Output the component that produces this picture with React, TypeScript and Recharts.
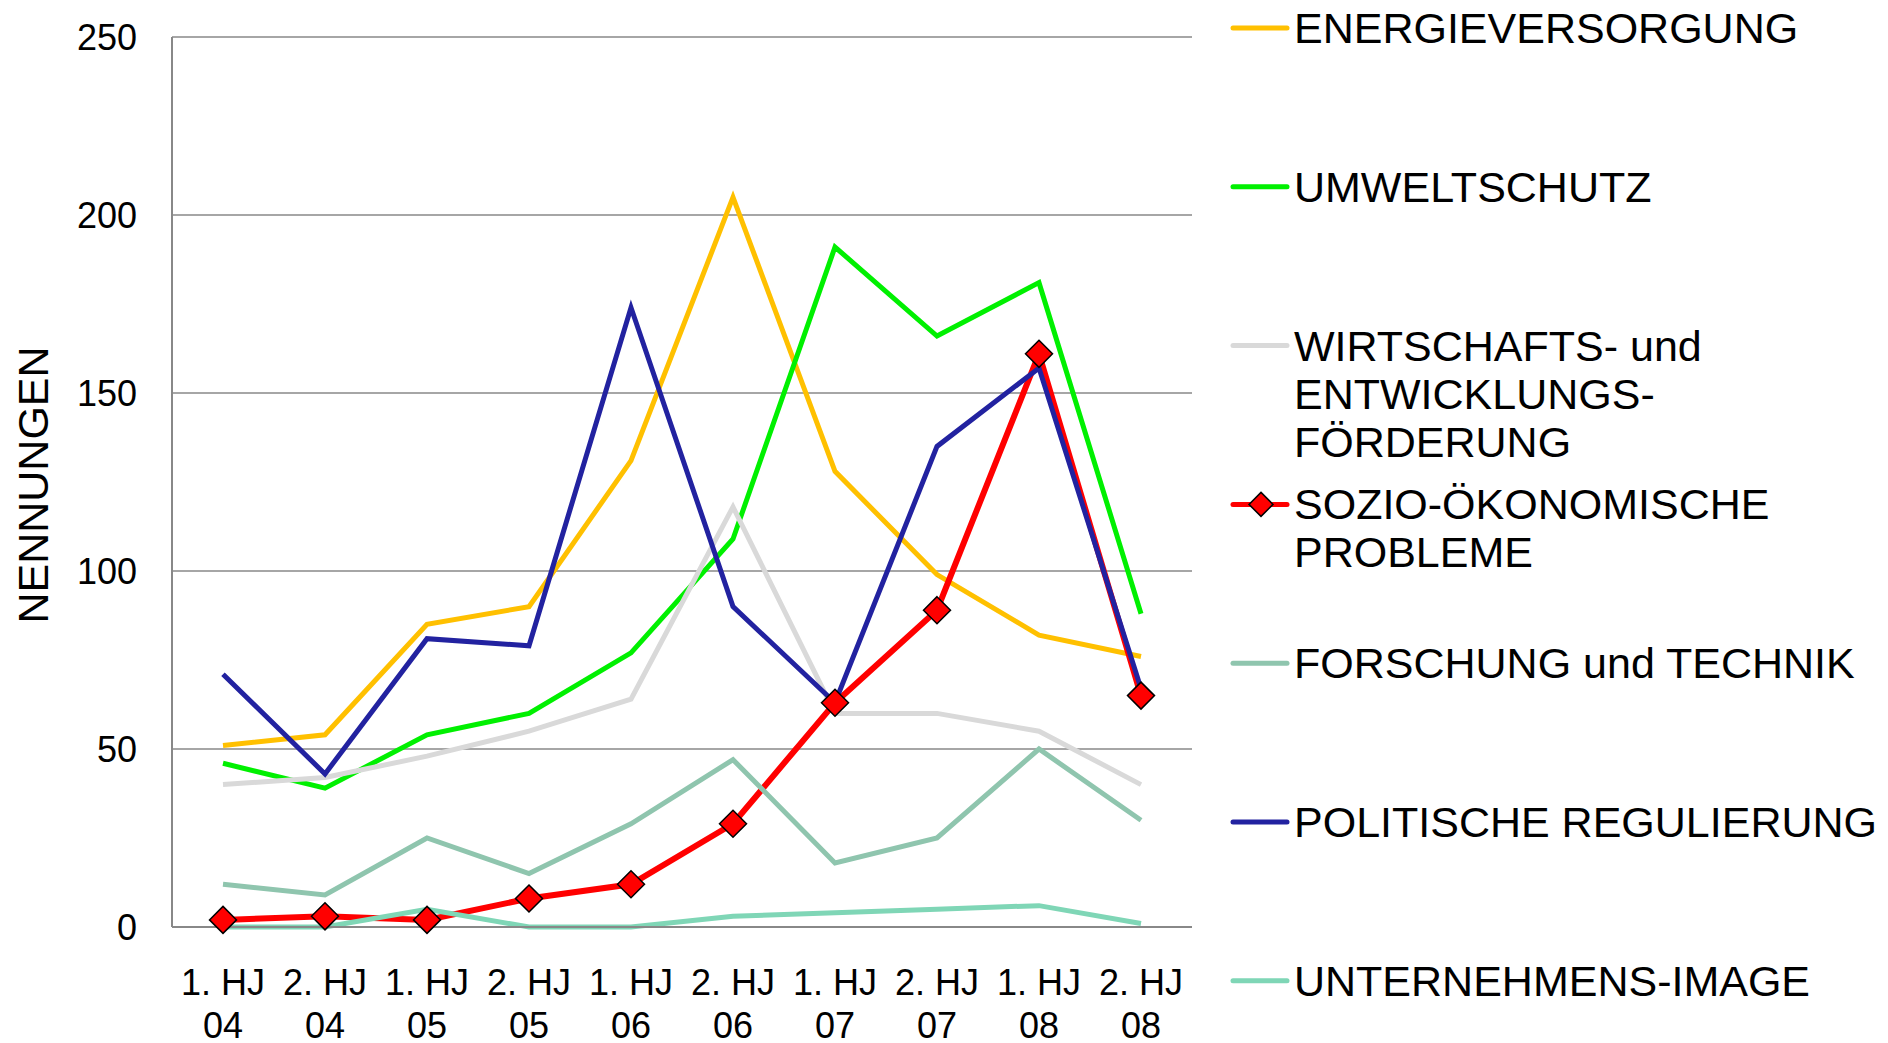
import React from 'react';
import { LineChart, Line, XAxis, YAxis, CartesianGrid, Legend } from 'recharts';

const halfYears = ['1. HJ', '2. HJ', '1. HJ', '2. HJ', '1. HJ', '2. HJ', '1. HJ', '2. HJ', '1. HJ', '2. HJ'];
const years = ['04', '04', '05', '05', '06', '06', '07', '07', '08', '08'];
const yTicks = [0, 50, 100, 150, 200, 250];

const energie = [51, 54, 85, 90, 131, 205, 128, 99, 82, 76];
const umwelt = [46, 39, 54, 60, 77, 109, 191, 166, 181, 88];
const wirtschaft = [40, 42, 48, 55, 64, 118, 60, 60, 55, 40];
const sozio = [2, 3, 2, 8, 12, 29, 63, 89, 161, 65];
const forschung = [12, 9, 25, 15, 29, 47, 18, 25, 50, 30];
const politik = [71, 43, 81, 79, 174, 90, 63, 135, 157, 67];
const image = [0, 0, 5, 0, 0, 3, 4, 5, 6, 1];

const SERIES = [
  { key: 'energie', lines: ['ENERGIEVERSORGUNG'], color: '#FFC000', width: 5, values: energie },
  { key: 'umwelt', lines: ['UMWELTSCHUTZ'], color: '#00F000', width: 5, values: umwelt },
  { key: 'wirtschaft', lines: ['WIRTSCHAFTS- und', 'ENTWICKLUNGS-', 'FÖRDERUNG'], color: '#D9D9D9', width: 5, values: wirtschaft },
  { key: 'sozio', lines: ['SOZIO-ÖKONOMISCHE', 'PROBLEME'], color: '#FF0000', width: 6, values: sozio, marker: true },
  { key: 'forschung', lines: ['FORSCHUNG und TECHNIK'], color: '#8FC5AE', width: 5, values: forschung },
  { key: 'politik', lines: ['POLITISCHE REGULIERUNG'], color: '#2222A0', width: 5, values: politik },
  { key: 'image', lines: ['UNTERNEHMENS-IMAGE'], color: '#7FD6B6', width: 5, values: image },
];

const data = halfYears.map((h, i) => {
  const row: Record<string, string | number> = { name: `${h} ${years[i]}`, half: h, year: years[i] };
  SERIES.forEach((s) => {
    row[s.key] = s.values[i];
  });
  return row;
});

const FONT = '"Liberation Sans", Arial, sans-serif';

function Diamond({ cx, cy, size = 13.5 }: { cx?: number; cy?: number; size?: number }) {
  if (cx == null || cy == null) return null;
  const s = size;
  return (
    <path
      d={`M${cx},${cy - s} L${cx + s},${cy} L${cx},${cy + s} L${cx - s},${cy} Z`}
      fill="#FF0000"
      stroke="#000"
      strokeWidth={1.5}
    />
  );
}

function XTick({ x, y, payload }: any) {
  const i = payload.index;
  return (
    <g>
      <text x={x} y={y + 68} textAnchor="middle" fontSize={36} fontFamily={FONT} fill="#000">
        {halfYears[i]}
      </text>
      <text x={x} y={y + 111} textAnchor="middle" fontSize={36} fontFamily={FONT} fill="#000">
        {years[i]}
      </text>
    </g>
  );
}

// legend is drawn in its own svg, placed at chart x = 1220
function LegendBox() {
  return (
    <svg width={660} height={1035} style={{ display: 'block', overflow: 'visible' }}>
      {SERIES.map((s, i) => {
        const ly = 20 + i * 158.8;
        return (
          <g key={s.key}>
            <line x1={5} y1={ly} x2={59} y2={ly} stroke={s.color} strokeWidth={5} strokeLinecap="round" />
            {s.marker && <Diamond cx={33} cy={ly} size={12} />}
            {s.lines.map((t, j) => (
              <text key={j} x={66} y={ly + 15 + j * 48} fontSize={43} fontFamily={FONT} fill="#000">
                {t}
              </text>
            ))}
          </g>
        );
      })}
    </svg>
  );
}

export default function App() {
  return (
    <LineChart
      width={1880}
      height={1035}
      data={data}
      margin={{ top: 29, right: 696, bottom: 0, left: 0 }}
    >
      <CartesianGrid vertical={false} stroke="#888888" strokeWidth={1.5} />
      <XAxis
        dataKey="name"
        height={116}
        padding={{ left: 51, right: 51 }}
        axisLine={{ stroke: '#888888', strokeWidth: 2 }}
        tickLine={false}
        tickSize={0}
        tickMargin={0}
        interval={0}
        tick={<XTick />}
      />
      <YAxis
        width={164}
        domain={[0, 250]}
        ticks={yTicks}
        axisLine={{ stroke: '#888888', strokeWidth: 2 }}
        tickLine={false}
        tickSize={0}
        tickMargin={35}
        tick={{ fontSize: 36, fontFamily: FONT, fill: '#000' }}
        label={{
          content: ({ viewBox }: any) => {
            const cx = viewBox.x + 25;
            const cy = viewBox.y + viewBox.height / 2 + 3;
            return (
              <text
                x={cx}
                y={cy}
                transform={`rotate(-90 ${cx} ${cy})`}
                textAnchor="middle"
                dominantBaseline="central"
                fontSize={43}
                fontFamily={FONT}
                fill="#000"
              >
                NENNUNGEN
              </text>
            );
          },
        }}
      />
      <Legend
        layout="vertical"
        align="center"
        verticalAlign="middle"
        wrapperStyle={{ position: 'absolute', left: 1220, top: 0, width: 660, height: 1035 }}
        content={() => <LegendBox />}
      />
      {SERIES.map((s) => (
        <Line
          key={s.key}
          dataKey={s.key}
          name={s.lines.join(' ')}
          stroke={s.color}
          strokeWidth={s.width}
          strokeLinejoin="miter"
          dot={s.marker ? (p: any) => <Diamond key={`d-${p.index}`} cx={p.cx} cy={p.cy} /> : false}
          activeDot={false}
          isAnimationActive={false}
        />
      ))}
    </LineChart>
  );
}
